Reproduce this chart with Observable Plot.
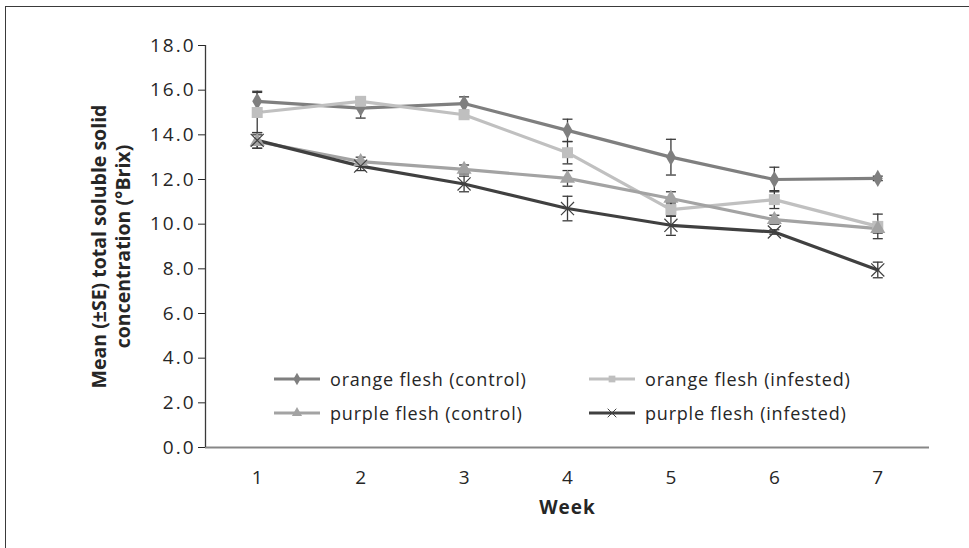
<!DOCTYPE html>
<html>
<head>
<meta charset="utf-8">
<script src="https://cdn.jsdelivr.net/npm/d3@7"></script>
<script src="https://cdn.jsdelivr.net/npm/@observablehq/plot@0.6"></script>
<style>
  html, body { margin: 0; padding: 0; background: #fff; overflow: hidden; }
  #wrap { position: relative; width: 969px; height: 548px; font-family: "Open Sans", sans-serif; }
  #border { position: absolute; left: 5px; top: 6px; width: 1100px; height: 700px; border: 1px solid #3a3a3a; box-sizing: border-box; }
  #chart { position: absolute; left: 0; top: 0; }
  .leg { position: absolute; display: flex; align-items: center; font-size: 18px; letter-spacing: 0.8px; color: #262626; white-space: nowrap; }
  .leg svg { margin-right: 10px; }
</style>
</head>
<body>
<div id="wrap">
  <div id="border"></div>
  <div id="chart"></div>
</div>
<script>
// ---- data ----
const weeks = [1, 2, 3, 4, 5, 6, 7];
const seriesNames = ["orange flesh (control)", "orange flesh (infested)", "purple flesh (control)", "purple flesh (infested)"];
const orangeControl    = [15.5, 15.2, 15.4, 14.2, 13.0, 12.0, 12.05];
const orangeControlSE  = [0.45, 0.45, 0.3, 0.5, 0.8, 0.55, 0.1];
const orangeInfested   = [15.0, 15.5, 14.9, 13.2, 10.65, 11.1, 9.9];
const orangeInfestedSE = [0.9, 0.15, 0.15, 0.5, 0.3, 0.4, 0.55];
const purpleControl    = [13.7, 12.8, 12.45, 12.05, 11.15, 10.2, 9.8];
const purpleControlSE  = [0.3, 0.2, 0.2, 0.35, 0.3, 0.2, 0.2];
const purpleInfested   = [13.75, 12.6, 11.8, 10.7, 9.95, 9.65, 7.95];
const purpleInfestedSE = [0.35, 0.2, 0.35, 0.55, 0.45, 0.1, 0.35];
const yTicks = [0, 2, 4, 6, 8, 10, 12, 14, 16, 18];
const xLabel = "Week";
const yLabel = "Mean (±SE) total soluble solid\nconcentration (°Brix)";

// ---- styles ----
const styles = [
  {line: "#7f7f7f", fill: "#7f7f7f", symbol: "diamond", r: 5.2},
  {line: "#c0c0c0", fill: "#bfbfbf", symbol: "square", r: 6.2},
  {line: "#a3a3a3", fill: "#a3a3a3", symbol: "triangle", r: 5.6},
  {line: "#404040", fill: "none", symbol: "times", r: 6}
];
const values = [orangeControl, orangeInfested, purpleControl, purpleInfested];
const ses = [orangeControlSE, orangeInfestedSE, purpleControlSE, purpleInfestedSE];

const table = seriesNames.map((name, i) =>
  weeks.map((w, j) => ({series: name, week: w, value: values[i][j], se: ses[i][j]})));

const capSymbol = {
  draw(context, size) {
    const r = Math.sqrt(size / Math.PI);
    context.moveTo(-r, 0);
    context.lineTo(r, 0);
  }
};

const marks = [
  Plot.ruleY([0], {stroke: "#878787", strokeWidth: 2}),
  Plot.ruleX([0.5], {stroke: "#3a3a3a", strokeWidth: 1.3}),
];
table.forEach((rows, i) => {
  marks.push(Plot.line(rows, {x: "week", y: "value", stroke: styles[i].line, strokeWidth: 3.2}));
});
table.forEach((rows, i) => {
  marks.push(Plot.ruleX(rows, {x: "week", y1: d => d.value - d.se, y2: d => d.value + d.se, stroke: "#3a3a3a", strokeWidth: 1.3}));
  marks.push(Plot.dot(rows, {x: "week", y: d => d.value + d.se, symbol: capSymbol, r: 5, fill: "none", stroke: "#3a3a3a", strokeWidth: 1.3}));
  marks.push(Plot.dot(rows, {x: "week", y: d => d.value - d.se, symbol: capSymbol, r: 5, fill: "none", stroke: "#3a3a3a", strokeWidth: 1.3}));
});
table.forEach((rows, i) => {
  const s = styles[i];
  if (s.fill === "none") {
    marks.push(Plot.dot(rows, {x: "week", y: "value", symbol: s.symbol, r: s.r, stroke: s.line, strokeWidth: 1.2, fill: "none"}));
  } else {
    marks.push(Plot.dot(rows, {x: "week", y: "value", symbol: s.symbol, r: s.r, fill: s.fill, stroke: "none"}));
  }
});
marks.push(Plot.text([xLabel], {frameAnchor: "bottom", dy: 66, fontWeight: "bold", fontSize: 19, fill: "#262626"}));
marks.push(Plot.text([yLabel], {frameAnchor: "left", textAnchor: "middle", rotate: -90, dx: -95, fontWeight: "bold", fontSize: 19.5, lineHeight: 1.23, fill: "#262626"}));

const chart = Plot.plot({
  width: 969,
  height: 548,
  marginLeft: 205,
  marginRight: 40,
  marginTop: 45,
  marginBottom: 101,
  style: {fontFamily: "Open Sans", fontSize: "19px", color: "#262626", background: "transparent", overflow: "visible"},
  x: {domain: [0.5, 7.5], ticks: weeks, tickSize: 0, tickPadding: 23, tickFormat: d => String(d), label: null},
  y: {domain: [0, 18], ticks: yTicks, tickSize: 7, tickPadding: 3, tickFormat: d => d.toFixed(1), label: null},
  marks
});
document.getElementById("chart").appendChild(chart);

// widen axis tick labels to match the reference's broad lettering
d3.select(chart).selectAll('g[aria-label="y-axis tick label"] text').style("letter-spacing", "2px");
d3.select(chart).selectAll('g[aria-label="text"] text').filter(function() { return this.textContent === xLabel; }).style("letter-spacing", "1px");

// ---- legend (HTML overlay) ----
const legendPos = [
  {left: 274, top: 379}, {left: 589, top: 379},
  {left: 274, top: 413}, {left: 589, top: 413}
];
const symMap = {diamond: d3.symbolDiamond, square: d3.symbolSquare, triangle: d3.symbolTriangle, times: d3.symbolTimes};
const wrap = document.getElementById("wrap");
seriesNames.forEach((name, i) => {
  const s = styles[i];
  const div = document.createElement("div");
  div.className = "leg";
  div.style.left = legendPos[i].left + "px";
  div.style.top = (legendPos[i].top - 12) + "px";
  div.style.height = "24px";
  const svg = d3.create("svg").attr("width", 46).attr("height", 14);
  svg.append("line").attr("x1", 0).attr("x2", 46).attr("y1", 7).attr("y2", 7).attr("stroke", s.line).attr("stroke-width", 3.2);
  const size = s.symbol === "times" ? 50 : 45;
  svg.append("path").attr("transform", "translate(23,7)").attr("d", d3.symbol(symMap[s.symbol], size)())
    .attr("fill", s.fill === "none" ? "none" : s.fill).attr("stroke", s.fill === "none" ? s.line : "none").attr("stroke-width", 1);
  div.appendChild(svg.node());
  const span = document.createElement("span");
  span.textContent = name;
  div.appendChild(span);
  wrap.appendChild(div);
});
</script>
</body>
</html>
